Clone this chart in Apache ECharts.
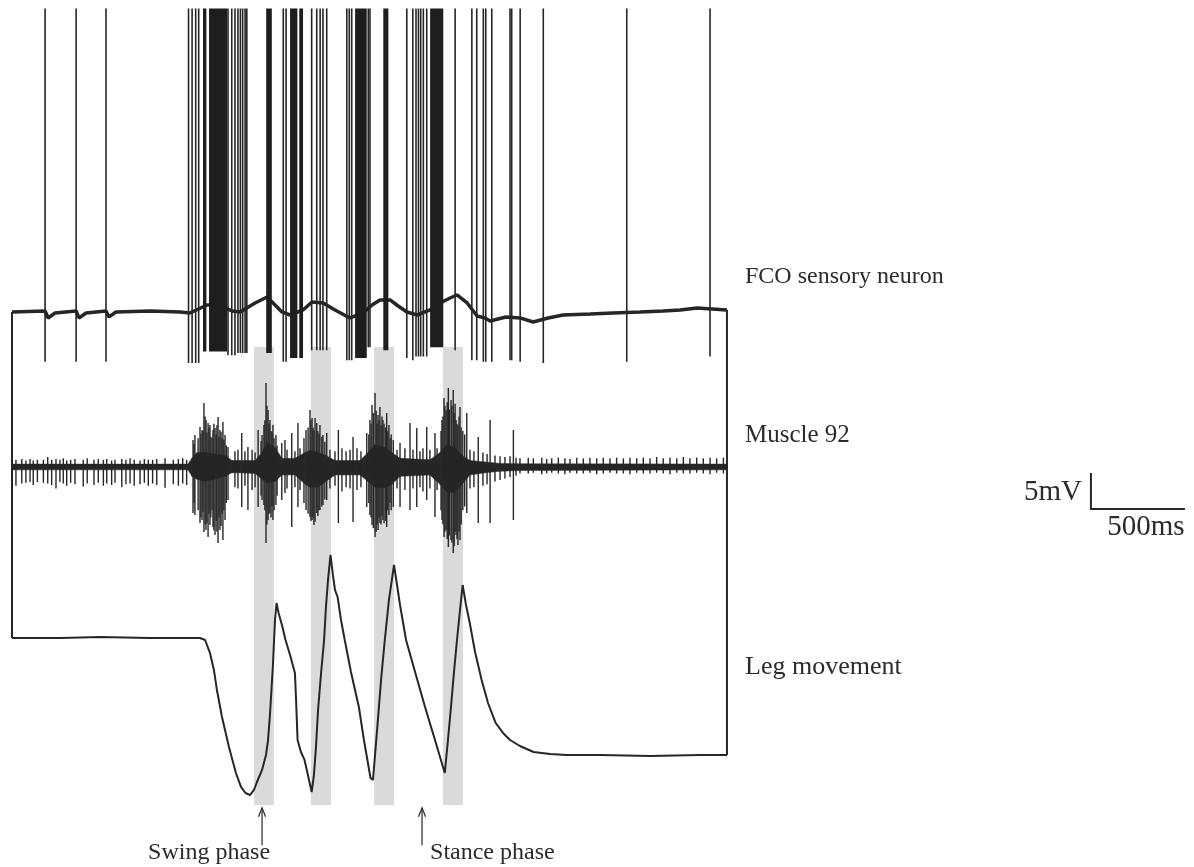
<!DOCTYPE html>
<html><head><meta charset="utf-8">
<script src="https://cdn.jsdelivr.net/npm/echarts@6/dist/echarts.min.js"></script>
<style>html,body{margin:0;padding:0;background:#fff}#c{width:1194px;height:867px}</style>
</head><body><div id="c"></div>
<script>
// ---------------- DATA (time in ms, amplitudes in mV relative to each trace's baseline) -------------
const traceLabels = ['FCO sensory neuron', 'Muscle 92', 'Leg movement'];
const phaseLabels = ['Swing phase', 'Stance phase'];
const phaseTimes = [1330, 2181];
const scaleBarMs = 500;
const scaleBarMv = 5;

// FCO sensory neuron: slow membrane baseline [t, mV]
const fcoBaseline = [[0,0],[176,0.14],[192,-0.83],[229,-0.14],[341,0.14],[356,-0.83],[394,-0.14],[500,0.14],[516,-0.69],[553,0],
  [734,0.14],[894,0],[947,-0.14],[1037,0.97],[1107,0.97],[1170,0.14],[1213,0],[1293,1.25],[1357,2.08],[1399,0.97],[1436,0],
  [1479,-0.42],[1548,0.28],[1596,1.39],[1655,1.25],[1718,0.28],[1798,-0.83],[1867,-0.14],[1915,0.97],[1958,1.67],[2011,1.67],
  [2054,0.83],[2101,0],[2155,-0.42],[2224,0.28],[2288,1.39],[2330,1.94],[2367,2.36],[2421,1.25],[2474,-0.56],[2516,-0.83],
  [2543,-1.25],[2628,-0.69],[2703,-0.83],[2772,-1.39],[2852,-0.83],[2931,-0.42],[3075,-0.28],[3197,-0.14],[3341,0],[3463,0.14],
  [3554,0.28],[3644,0.56],[3724,0.42],[3803,0.28]];
// FCO single spikes [t, trough mV]; all spikes peak at fcoSpikePeak
const fcoSpikePeak = 42.15;
const fcoSpikes = [[176,-6.9],[341,-6.9],[500,-6.9],[939,-7.1],[958,-7.1],[977,-7.1],[993,-7.1],
  [1149,-6.0],[1169,-6.0],[1186,-6.0],[1202,-5.7],[1215,-5.7],[1227,-5.7],[1240,-5.7],[1249,-5.7],
  [1443,-6.9],[1458,-6.9],[1594,-5.3],[1621,-5.3],[1639,-5.3],[1654,-5.3],[1674,-5.3],
  [1781,-6.7],[1794,-6.7],[1807,-6.7],[1895,-4.9],[1904,-4.9],
  [2100,-6.4],[2132,-6.7],[2149,-6.2],[2162,-6.2],[2174,-6.2],[2188,-6.2],[2206,-6.2],
  [2357,-5.3],[2446,-6.7],[2472,-6.7],[2507,-6.9],[2520,-6.9],[2552,-6.9],[2649,-6.7],[2658,-6.7],[2703,-6.9],
  [2826,-7.1],[3270,-6.9],[3713,-6.2]];
// FCO high-frequency bursts (spikes fused) [tStart, tEnd, trough mV]
const fcoBursts = [[1016,1034,-5.5],[1048,1144,-5.5],[1352,1382,-5.7],[1479,1518,-6.4],[1528,1548,-6.4],
  [1825,1887,-6.4],[1975,2002,-5.3],[2224,2294,-4.9]];

// Muscle 92: dense EMG envelope [t, upper mV, lower mV]
const muscleCore = [[0,0.4,-0.4],[936,0.4,-0.4],[957,1.2,-1.3],[984,2.0,-1.7],[1027,2.0,-2.0],[1080,1.8,-1.7],[1133,1.6,-1.3],
  [1170,0.9,-0.8],[1213,0.9,-0.8],[1293,0.9,-0.9],[1330,2.0,-1.7],[1356,3.4,-2.2],[1399,2.7,-2.0],[1436,1.2,-1.1],[1505,1.2,-1.1],
  [1559,2.0,-2.4],[1585,2.3,-2.8],[1628,2.0,-2.8],[1670,1.6,-2.0],[1718,0.9,-1.1],[1851,0.9,-1.1],[1894,2.0,-2.0],[1931,3.1,-2.8],
  [1984,2.7,-2.9],[2021,2.0,-2.4],[2064,1.2,-1.3],[2223,1.0,-1.1],[2277,2.0,-2.4],[2314,3.1,-3.5],[2356,2.7,-3.5],[2394,1.6,-2.4],
  [2436,0.9,-1.1],[2516,0.7,-0.8],[2596,0.5,-0.6],[2702,0.45,-0.5],[3803,0.4,-0.4]];
// Muscle 92: individual unit potentials [t, peak mV, trough mV]
const muscleUnits = [
  [21,1.0,-2.6],[52,1.1,-2.3],[74,0.9,-2.2],[96,1.1,-2.1],[113,0.9,-2.5],[135,1.0,-2.1],[167,1.0,-2.2],[190,1.4,-2.3],[211,1.0,-2.5],
  [234,1.1,-3.0],[255,1.0,-2.1],[273,1.2,-2.3],[291,0.9,-2.6],[312,1.0,-2.2],[335,1.1,-2.4],[379,1.0,-2.7],[400,1.2,-2.3],
  [436,1.0,-2.5],[459,1.1,-2.2],[486,1.0,-2.6],[504,1.1,-2.3],[530,0.9,-2.5],[548,1.0,-2.2],[584,1.1,-2.8],[606,1.0,-2.4],
  [628,1.2,-2.3],[650,1.0,-2.6],[681,0.9,-2.4],[704,1.1,-2.2],[725,1.0,-2.6],[748,1.0,-2.3],[770,1.1,-2.5],[814,1.2,-2.9],
  [858,1.0,-2.4],[885,1.1,-2.6],[908,1.2,-2.3],[929,1.0,-2.5],
  [963,3.75,-6.39],[968,3.2,-5.0],[973,4.44,-6.67],[990,4.0,-6.0],[1000,5.56,-7.78],[1005,4.6,-7.0],[1011,5.14,-7.36],[1016,5.0,-6.2],
  [1021,8.89,-9.03],[1027,7.0,-8.0],[1032,6.53,-8.75],[1037,4.8,-7.8],[1043,6.11,-9.72],[1048,5.5,-6.5],[1053,5.83,-8.06],
  [1058,4.2,-7.0],[1064,4.0,-6.0],[1069,5.14,-8.33],[1074,6.0,-8.8],[1080,5.42,-9.44],[1086,4.5,-7.5],[1090,5.8,-9.0],
  [1096,6.94,-10.56],[1101,4.2,-7.0],[1106,5.14,-8.75],[1112,4.9,-8.2],[1117,4.0,-6.5],[1122,6.25,-10.14],[1127,3.8,-6.0],
  [1133,4.44,-7.36],[1140,3.0,-5.0],
  [1149,2.78,-4.58],[1186,2.2,-2.8],[1202,2.4,-3.0],[1222,4.72,-5.56],[1239,2.2,-2.6],[1255,2.78,-5.97],[1277,2.4,-3.2],[1293,2.0,-2.8],
  [1309,5.14,-5.56],[1325,3.6,-4.0],[1330,4.44,-4.58],[1340,5.83,-5.28],[1345,6.5,-6.0],[1351,11.67,-10.56],[1356,8.5,-8.0],
  [1362,7.92,-7.36],[1367,6.0,-6.5],[1372,6.53,-6.39],[1378,5.0,-7.0],[1383,4.8,-5.5],[1388,5.83,-7.36],[1394,4.0,-6.0],
  [1404,4.44,-5.28],[1410,3.0,-4.0],[1435,3.33,-4.58],[1452,3.75,-3.61],[1463,2.4,-3.0],[1488,4.72,-8.33],[1505,2.2,-2.8],[1521,6.11,-5.56],
  [1532,2.6,-3.2],[1553,4.0,-5.0],[1564,5.14,-5.97],[1575,5.5,-6.5],[1585,7.92,-6.94],[1590,6.5,-7.5],[1596,6.81,-7.36],
  [1601,5.5,-7.0],[1606,5.14,-8.06],[1612,6.8,-7.6],[1621,6.11,-6.39],[1627,5.0,-6.8],[1633,4.6,-6.0],[1638,5.83,-5.97],
  [1648,4.2,-5.5],[1654,4.44,-5.28],[1664,3.5,-4.5],[1674,4.72,-4.58],[1691,2.4,-3.0],[1718,2.2,-2.6],[1736,5.14,-7.78],[1755,2.6,-3.4],[1777,2.2,-2.8],
  [1798,2.4,-3.0],[1814,4.17,-7.64],[1835,2.6,-3.2],[1856,2.2,-2.8],[1887,4.72,-5.56],[1898,4.5,-5.0],[1904,6.53,-6.67],
  [1910,6.0,-7.0],[1915,8.61,-8.06],[1922,7.5,-8.5],[1931,10.28,-9.72],[1937,7.8,-9.0],[1942,6.0,-8.0],[1947,7.22,-8.75],
  [1952,6.5,-7.0],[1957,8.33,-7.78],[1963,5.8,-8.0],[1968,7.0,-6.8],[1973,6.53,-7.36],[1979,6.0,-7.8],[1988,5.5,-7.5],
  [1993,7.5,-8.33],[1999,5.0,-6.0],[2005,5.83,-6.67],[2011,4.0,-5.0],[2017,4.5,-6.0],[2028,3.75,-5.56],
  [2048,2.4,-3.0],[2064,3.33,-5.56],[2090,2.6,-3.2],[2117,6.11,-5.97],[2133,2.4,-3.0],[2153,5.42,-5.56],[2170,2.2,-2.8],
  [2186,2.6,-3.4],[2206,5.56,-4.58],[2223,2.4,-3.0],[2250,4.72,-6.94],[2261,2.6,-3.2],[2282,5.0,-6.0],[2287,6.53,-7.36],
  [2292,7.0,-8.0],[2298,9.58,-9.72],[2303,8.5,-9.0],[2309,7.92,-8.75],[2315,9.0,-10.0],[2321,10.97,-11.11],[2326,8.0,-9.5],
  [2335,9.31,-10.14],[2340,8.5,-10.5],[2347,10.69,-11.94],[2352,7.5,-11.0],[2357,8.8,-9.0],[2362,6.53,-9.44],[2367,6.0,-10.0],
  [2372,5.83,-10.83],[2378,7.0,-9.0],[2383,8.33,-10.14],[2389,5.5,-8.0],[2398,5.0,-6.0],[2408,4.5,-5.5],
  [2419,7.5,-6.39],[2436,2.4,-3.0],[2457,2.2,-2.8],[2480,4.17,-7.78],[2505,2.0,-2.6],[2527,1.8,-2.4],
  [2543,6.53,-7.78],[2569,1.6,-2.0],[2596,1.5,-1.8],[2622,1.4,-1.6],[2649,1.5,-1.4],[2667,5.14,-7.36],[2681,1.3,-1.2],
  [2702,1.2,-0.9],[2746,1.3,-0.9],[2773,1.2,-0.8],[2818,1.3,-1.0],[2844,1.1,-0.9],[2871,1.2,-0.8],[2906,1.3,-0.9],[2941,1.2,-1.0],
  [2968,1.1,-0.8],[3004,1.3,-0.9],[3039,1.2,-0.9],[3074,1.3,-0.8],[3110,1.2,-1.0],[3145,1.3,-0.9],[3181,1.2,-0.8],[3216,1.3,-0.9],
  [3252,1.2,-0.9],[3287,1.3,-1.0],[3323,1.2,-0.8],[3358,1.3,-0.9],[3394,1.2,-0.9],[3429,1.4,-0.8],[3464,1.2,-0.9],[3500,1.3,-1.0],
  [3536,1.2,-0.8],[3571,1.4,-0.9],[3606,1.2,-0.9],[3642,1.3,-0.8],[3677,1.2,-0.9],[3713,1.3,-1.0],[3748,1.2,-0.8],[3784,1.3,-0.9]];

// Leg movement [t, deflection]
const legTrace = [[0,0],[255,0],[468,0.14],[734,0],[1000,0],[1027,-0.28],[1053,-2.08],[1074,-4.44],[1090,-7.22],[1117,-10.97],
  [1154,-15.14],[1191,-18.75],[1218,-20.69],[1242,-21.53],[1266,-21.81],[1287,-21.11],[1303,-20.0],[1330,-18.33],[1351,-16.25],
  [1362,-14.17],[1372,-10.69],[1380,-7.22],[1388,-3.75],[1394,-0.28],[1399,2.5],[1407,4.86],[1418,3.47],[1436,1.81],[1455,-0.28],
  [1479,-2.36],[1505,-4.86],[1511,-8.61],[1519,-14.17],[1537,-15.83],[1556,-16.94],[1574,-19.03],[1594,-21.39],[1606,-19.03],
  [1617,-15.14],[1628,-10.0],[1644,-4.86],[1660,-0.28],[1670,4.31],[1681,8.06],[1694,11.53],[1707,8.75],[1718,6.67],[1732,5.69],
  [1750,2.5],[1770,-0.28],[1803,-4.72],[1845,-9.58],[1872,-14.17],[1907,-19.44],[1920,-19.72],[1931,-16.25],[1945,-11.81],
  [1963,-5.83],[1983,-0.28],[2005,5.28],[2032,10.14],[2064,4.58],[2096,-0.28],[2144,-4.72],[2197,-9.58],[2250,-14.17],
  [2302,-18.75],[2319,-14.17],[2335,-9.58],[2351,-4.72],[2367,-0.28],[2383,3.89],[2397,7.36],[2415,4.58],[2435,2.08],
  [2463,-1.94],[2498,-5.83],[2532,-9.03],[2573,-11.81],[2612,-13.19],[2649,-14.17],[2702,-15.0],[2774,-15.83],[2862,-16.11],
  [2950,-16.25],[3128,-16.25],[3394,-16.39],[3660,-16.25],[3803,-16.25]];

// Shaded windows [tStart, tEnd]
const shadedWindows = [[1287,1394],[1590,1697],[1926,2032],[2293,2399]];

// ---------------- LAYOUT ----------------
const INK = '#262626';
const TEXT_INK = '#2b2b2b';
const FONT = '"Liberation Serif", "Times New Roman", serif';
const LABEL_SIZES = [24, 25, 26];
const FCO_Y = -43.33, MUS_Y = -64.86, LEG_Y = -88.61;   // trace baselines on the display axis
const BAND_TOP = -48.2, BAND_BOT = -111.8;
const ARROW_TIP = -112.2, ARROW_TAIL = -117.4;
const SB_T = 5739, SB_Y = -70.69;

const chart = echarts.init(document.getElementById('c'), null, {renderer: 'canvas'});

const off = (arr, o) => arr.map(p => [p[0], p[1] + o]);

function coreItem(params, api) {
  const i = params.dataIndex;
  if (i >= muscleCore.length - 1) return null;
  const a = muscleCore[i], b = muscleCore[i + 1];
  const p = [api.coord([a[0], MUS_Y + a[1]]), api.coord([b[0], MUS_Y + b[1]]),
             api.coord([b[0], MUS_Y + b[2]]), api.coord([a[0], MUS_Y + a[2]])];
  return {type: 'polygon', shape: {points: p}, style: {fill: INK, stroke: INK, lineWidth: 0.5}};
}

const option = {
  animation: false,
  backgroundColor: '#ffffff',
  grid: {left: 12, right: 7, top: 0, bottom: 3, containLabel: false},
  xAxis: {type: 'value', min: 0, max: 6250, show: false},
  yAxis: {type: 'value', min: -120, max: 0, show: false},
  series: [
    { // shaded windows
      type: 'custom', z: 1, data: shadedWindows,
      renderItem: (params, api) => {
        const p0 = api.coord([api.value(0), BAND_TOP]);
        const p1 = api.coord([api.value(1), BAND_BOT]);
        return {type: 'rect', shape: {x: p0[0], y: p0[1], width: p1[0] - p0[0], height: p1[1] - p0[1]},
                style: {fill: '#dadada'}};
      }
    },
    { // frame connecting trace ends
      type: 'line', z: 3, symbol: 'none', silent: true,
      lineStyle: {color: INK, width: 2},
      data: [[0, FCO_Y + fcoBaseline[0][1]], [0, LEG_Y + legTrace[0][1]]]
    },
    {
      type: 'line', z: 3, symbol: 'none', silent: true,
      lineStyle: {color: INK, width: 2},
      data: [[fcoBaseline[fcoBaseline.length - 1][0], FCO_Y + fcoBaseline[fcoBaseline.length - 1][1]],
             [legTrace[legTrace.length - 1][0], LEG_Y + legTrace[legTrace.length - 1][1]]]
    },
    { // FCO baseline
      type: 'line', z: 4, symbol: 'none', silent: true,
      lineStyle: {color: INK, width: 3.5}, data: off(fcoBaseline, FCO_Y)
    },
    { // FCO spikes
      type: 'custom', z: 5, data: fcoSpikes,
      renderItem: (params, api) => {
        const t = api.value(0);
        const a = api.coord([t, FCO_Y + fcoSpikePeak]), b = api.coord([t, FCO_Y + api.value(1)]);
        return {type: 'line', shape: {x1: a[0], y1: a[1], x2: b[0], y2: b[1]}, style: {stroke: INK, lineWidth: 1.6}};
      }
    },
    { // FCO bursts
      type: 'custom', z: 5, data: fcoBursts,
      renderItem: (params, api) => {
        const a = api.coord([api.value(0), FCO_Y + fcoSpikePeak]);
        const b = api.coord([api.value(1), FCO_Y + api.value(2)]);
        return {type: 'rect', shape: {x: a[0], y: a[1], width: Math.max(1.5, b[0] - a[0]), height: b[1] - a[1]},
                style: {fill: '#1e1e1e'}};
      }
    },
    { // muscle dense core
      type: 'custom', z: 5, data: muscleCore, renderItem: coreItem
    },
    { // muscle units
      type: 'custom', z: 5, data: muscleUnits,
      renderItem: (params, api) => {
        const t = api.value(0);
        const a = api.coord([t, MUS_Y + api.value(1)]), b = api.coord([t, MUS_Y + api.value(2)]);
        return {type: 'line', shape: {x1: a[0], y1: a[1], x2: b[0], y2: b[1]}, style: {stroke: INK, lineWidth: 1.4}};
      }
    },
    { // muscle baseline
      type: 'line', z: 5, symbol: 'none', silent: true,
      lineStyle: {color: INK, width: 2.5},
      data: [[0, MUS_Y], [muscleCore[muscleCore.length - 1][0], MUS_Y]]
    },
    { // leg movement
      type: 'line', z: 6, symbol: 'none', silent: true,
      lineStyle: {color: INK, width: 2}, data: off(legTrace, LEG_Y)
    },
    { // phase arrows and labels
      type: 'custom', z: 7, data: phaseTimes.map((t, i) => [t, i]),
      renderItem: (params, api) => {
        const t = api.value(0), i = api.value(1);
        const tip = api.coord([t, ARROW_TIP]), tail = api.coord([t, ARROW_TAIL]);
        const left = i === 0;
        return {type: 'group', children: [
          {type: 'line', shape: {x1: tip[0], y1: tip[1], x2: tail[0], y2: tail[1]}, style: {stroke: INK, lineWidth: 1.2}},
          {type: 'polyline', shape: {points: [[tip[0] - 3.5, tip[1] + 9], [tip[0], tip[1]], [tip[0] + 3.5, tip[1] + 9]]},
           style: {stroke: INK, lineWidth: 1.2, fill: null}},
          {type: 'text', x: tip[0] + 8, y: tail[1] + 7,
           style: {text: phaseLabels[i], font: '24px ' + FONT, fill: TEXT_INK,
                   align: left ? 'right' : 'left', verticalAlign: 'middle'}}
        ]};
      }
    },
    { // scale bar
      type: 'custom', z: 7, data: [[SB_T, SB_Y]],
      renderItem: (params, api) => {
        const o = api.coord([SB_T, SB_Y]);
        const tx = api.coord([SB_T + scaleBarMs, SB_Y]);
        const ty = api.coord([SB_T, SB_Y + scaleBarMv]);
        return {type: 'group', children: [
          {type: 'polyline', shape: {points: [ty, o, tx]}, style: {stroke: INK, lineWidth: 2, fill: null}},
          {type: 'text', x: o[0] - 9, y: (o[1] + ty[1]) / 2 + 1,
           style: {text: scaleBarMv + 'mV', font: '29px ' + FONT, fill: TEXT_INK, align: 'right', verticalAlign: 'middle'}},
          {type: 'text', x: (o[0] + tx[0]) / 2 + 8, y: o[1] + 18,
           style: {text: scaleBarMs + 'ms', font: '29px ' + FONT, fill: TEXT_INK, align: 'center', verticalAlign: 'middle'}}
        ]};
      }
    }
  ],
  graphic: [
    {type: 'text', x: 745, y: 277, style: {text: traceLabels[0], font: LABEL_SIZES[0] + 'px ' + FONT, fill: TEXT_INK, verticalAlign: 'middle'}},
    {type: 'text', x: 745, y: 435, style: {text: traceLabels[1], font: LABEL_SIZES[1] + 'px ' + FONT, fill: TEXT_INK, verticalAlign: 'middle'}},
    {type: 'text', x: 745, y: 667, style: {text: traceLabels[2], font: LABEL_SIZES[2] + 'px ' + FONT, fill: TEXT_INK, verticalAlign: 'middle'}}
  ]
};
chart.setOption(option);
</script>
</body></html>
